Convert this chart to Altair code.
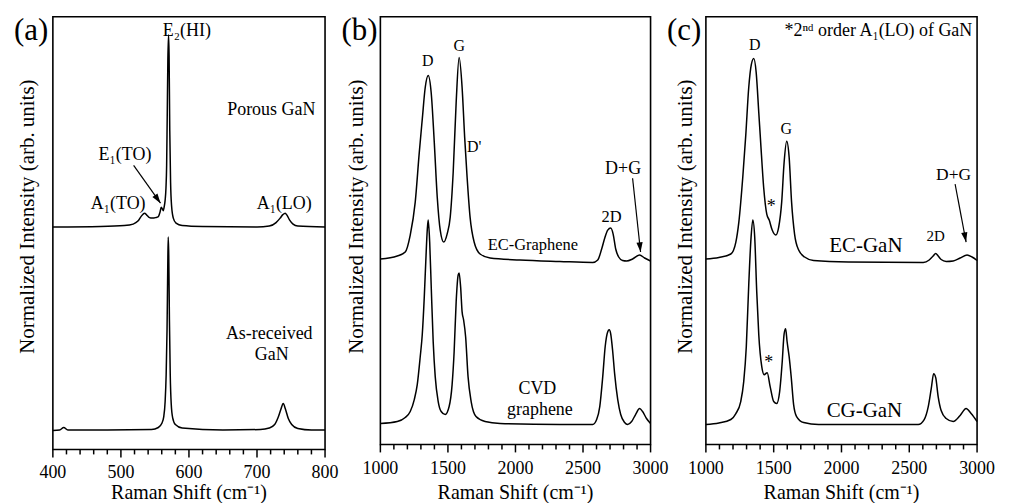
import altair as alt
import pandas as pd

FONT = "Liberation Serif"

# ---------------- panel (a): GaN ----------------
a_porous_x = [400, 470, 505, 518, 525, 530, 534.8, 538, 542, 546, 551, 555, 557.5, 559.3, 561, 562.3,
              563.5, 565, 566.2, 567.2, 568, 569, 570, 570.8, 571.8, 573, 574.5, 577, 581, 590, 620, 700,
              718, 728, 734, 738, 741.4, 744, 748, 753, 760, 800]
a_porous_y = [223, 223.5, 224.5, 226, 229, 234, 237, 235, 232.5, 232, 232.5, 233.5, 238, 243, 241, 239.5,
              243, 250, 262, 285, 330, 390, 416, 395, 320, 268, 244, 232, 227, 224.5, 223.5, 223,
              224, 227.5, 232, 235.5, 237, 235, 230, 226, 224, 223]
a_asrec_x = [400, 410, 416, 422, 480, 545, 555, 560, 563, 565, 566.5, 567.8, 568.8, 569.5, 570.3, 571.3,
             572.5, 574, 576, 580, 590, 650, 705, 718, 726, 731, 735, 738.5, 742, 746, 751, 760, 780, 800]
a_asrec_y = [19, 19.5, 22, 19.5, 19.5, 20, 22, 26, 33, 48, 75, 120, 180, 213, 195, 130,
             75, 45, 32, 25, 21.5, 19.5, 20, 21.5, 25, 32, 40, 46, 40, 31, 25, 21, 19.5, 19.5]
a_ann_x = [597, 721, 506, 496, 740, 718, 721.6]
a_ann_y = [415, 335, 290, 241, 241, 111, 90]
a_ann_t = ["E₂(HI)", "Porous GaN", "E₁(TO)", "A₁(TO)", "A₁(LO)", "As-received", "GaN"]
a_ann_s = [18, 18, 18, 18, 18, 18, 18]
a_arrow = [518.7, 285, 558.2, 247]
a_major = [400, 500, 600, 700, 800]
a_minor = list(range(400, 801, 20))

# ---------------- panel (b): graphene ----------------
b_ec_x = [1000, 1125, 1184, 1221, 1258, 1288, 1310, 1332, 1354, 1376, 1399, 1421, 1443, 1469, 1494, 1517,
          1539, 1561, 1583, 1605, 1624, 1642, 1664, 1694, 1738, 1812, 2033, 2328, 2572, 2609, 2638, 2661,
          2683, 2705, 2723, 2742, 2764, 2793, 2823, 2867, 2919, 2956, 3000]
b_ec_y = [186, 189, 193, 210, 243, 293, 326, 358, 370, 353, 303, 248, 215, 203, 211, 228,
          273, 343, 388, 358, 308, 268, 228, 203, 191, 187, 185, 183.5, 182.5, 185, 196, 207,
          215, 217, 211, 196, 188, 184.5, 184, 186, 190, 187, 184]
b_cvd_x = [1000, 1125, 1184, 1221, 1251, 1273, 1295, 1310, 1325, 1336, 1347, 1354, 1365, 1376, 1391, 1406,
           1428, 1450, 1480, 1509, 1531, 1546, 1561, 1576, 1583, 1594, 1605, 1616, 1631, 1649, 1672, 1708,
           1775, 1886, 2328, 2572, 2601, 2624, 2646, 2664, 2683, 2694, 2705, 2720, 2734, 2757, 2779, 2808,
           2830, 2860, 2889, 2919, 2941, 2970, 3000]
b_cvd_y = [21, 23, 27, 33, 45, 60, 88, 110, 148, 183, 215, 225, 203, 160, 103, 68,
           43, 33, 30, 38, 60, 93, 143, 170, 172, 158, 133, 125, 108, 68, 43, 28,
           23, 21, 20, 20, 25, 38, 68, 98, 113, 115, 111, 93, 71, 45, 30, 22,
           20, 23, 30, 36, 33, 26, 21]
b_ann_x = [1350.6, 1583, 1694, 2129, 2712, 2797, 2162, 2181]
b_ann_y = [380, 395, 293, 195, 223, 271, 51, 30]
b_ann_t = ["D", "G", "D'", "EC-Graphene", "2D", "D+G", "CVD", "graphene"]
b_ann_s = [16, 16, 16, 16.5, 16.5, 18, 18, 18]
b_arrow = [2867, 267, 2926, 193]
bc_major = [1000, 1500, 2000, 2500, 3000]
bc_minor = list(range(1000, 3001, 100))

# ---------------- panel (c): graphene on GaN ----------------
c_ec_x = [1000, 1096, 1184, 1221, 1243, 1272, 1294, 1316, 1335, 1353, 1371, 1390, 1404, 1426, 1449, 1467,
          1489, 1515, 1537, 1559, 1577, 1596, 1614, 1632, 1654, 1684, 1728, 1794, 2051, 2603, 2647, 2676,
          2695, 2713, 2735, 2772, 2824, 2875, 2926, 2963, 3000]
c_ec_y = [186, 187.5, 191, 203, 223, 268, 310, 358, 381, 387, 373, 333, 303, 258, 231, 225,
          215, 210, 218, 243, 283, 304, 288, 243, 211, 195, 188, 184.5, 183, 182.5, 185, 189,
          191.5, 189, 185.5, 183.5, 184, 187, 190, 188, 184.5]
c_cg_x = [1000, 1096, 1184, 1221, 1257, 1279, 1298, 1316, 1331, 1346, 1360, 1375, 1390, 1412, 1430, 1452,
          1474, 1500, 1522, 1544, 1563, 1577, 1588, 1599, 1614, 1629, 1647, 1669, 1721, 1831, 2566, 2610,
          2640, 2662, 2680, 2695, 2713, 2735, 2772, 2824, 2875, 2919, 2956, 3000]
c_cg_y = [20, 21.5, 25, 31, 43, 63, 98, 160, 203, 225, 208, 153, 110, 78, 70, 72,
          58, 43, 41, 53, 83, 111, 116, 103, 88, 68, 40, 28, 22, 20, 20, 25,
          38, 56, 71, 67, 48, 34, 26, 23, 29, 36, 31, 23]
c_ann_x = [2272, 1360, 1592, 2180, 2695, 2827, 2169, 1482, 1463]
c_ann_y = [410, 396, 311, 193, 204, 265, 28, 233, 77]
c_ann_t = ["*2ⁿᵈ order A₁(LO) of GaN", "D", "G", "EC-GaN", "2D", "D+G", "CG-GaN", "*", "*"]
c_ann_s = [18, 16, 16, 21, 15, 17.5, 21, 18, 18]
c_arrow = [2838, 261, 2919, 203]

Y_TITLE = "Normalized Intensity (arb. units)"
X_TITLE = "Raman Shift (cm⁻¹)"
HEAD = "M0,0L-0.32,-1L0.32,-1Z"
MAJOR_LEN = 8   # tick lengths, in the panels' y units (1 unit = 1 px)
MINOR_LEN = 5


def panel(curves, xdom, ydom, majors, minors, ann, arrow, head_angle, letter,
          title_x, xtitle_off, label_off, width, height):
    xs = alt.Scale(domain=xdom, nice=False, zero=False)
    ys = alt.Scale(domain=ydom, nice=False, zero=False)
    df = pd.concat([pd.DataFrame({"x": cx, "y": cy, "s": name}) for name, (cx, cy) in curves.items()])

    def X(field):
        return alt.X(field, scale=xs, axis=None)

    def Y(field):
        return alt.Y(field, scale=ys, axis=None)

    lines = alt.Chart(df).mark_line(color="black", strokeWidth=1.5, interpolate="monotone").encode(
        x=X("x:Q"), y=Y("y:Q"), detail="s:N",
    )
    # bottom axis ticks hanging below the frame, placed through both scales
    tick_df = pd.DataFrame({"x": minors, "y0": [0] * len(minors),
                            "y1": [-(MAJOR_LEN if v in majors else MINOR_LEN) for v in minors]})
    ticks = alt.Chart(tick_df).mark_rule(color="black", strokeWidth=1.5, clip=False).encode(
        x=X("x:Q"), y=Y("y0:Q"), y2="y1:Q")
    tick_lbl = alt.Chart(pd.DataFrame({"x": majors, "t": [str(v) for v in majors]})).mark_text(
        font=FONT, fontSize=18, color="black", align="center", baseline="alphabetic").encode(
        x=X("x:Q"), y=alt.value(height + label_off), text="t:N")
    xtitle = alt.Chart(pd.DataFrame({"t": [X_TITLE]})).mark_text(
        font=FONT, fontSize=20, color="black", align="center", baseline="alphabetic").encode(
        x=alt.value(width / 2), y=alt.value(height + xtitle_off), text="t:N")
    ann_df = pd.DataFrame({"x": ann[0], "y": ann[1], "t": ann[2], "fs": ann[3]})
    text = alt.Chart(ann_df).mark_text(font=FONT, color="black", align="center",
                                       baseline="alphabetic").encode(
        x=X("x:Q"), y=Y("y:Q"), text="t:N", size=alt.Size("fs:Q", scale=None),
    )
    ar_df = pd.DataFrame({"x": [arrow[0]], "y": [arrow[1]], "x2": [arrow[2]], "y2": [arrow[3]]})
    ar = alt.Chart(ar_df).mark_rule(color="black", strokeWidth=1.2).encode(
        x=X("x:Q"), y=Y("y:Q"), x2="x2:Q", y2="y2:Q",
    )
    head = alt.Chart(ar_df).mark_point(shape=HEAD, filled=True, color="black", opacity=1,
                                       size=380, angle=head_angle).encode(
        x=X("x2:Q"), y=Y("y2:Q"),
    )
    let = alt.Chart(pd.DataFrame({"t": [letter]})).mark_text(
        font=FONT, fontSize=31, color="black", align="left", baseline="alphabetic").encode(
        x=alt.value(-39), y=alt.value(23), text="t:N")
    ytitle = alt.Chart(pd.DataFrame({"t": [Y_TITLE]})).mark_text(
        font=FONT, fontSize=21, color="black", align="center", baseline="alphabetic", angle=270).encode(
        x=alt.value(title_x), y=alt.value(200.5), text="t:N")
    return alt.layer(lines, tick_lbl, xtitle, text, ar, head, let, ytitle, ticks).properties(
        width=width, height=height)


pa = panel({"Porous GaN": (a_porous_x, a_porous_y), "As-received GaN": (a_asrec_x, a_asrec_y)},
           [400, 800], [0, 434], a_major, a_minor,
           (a_ann_x, a_ann_y, a_ann_t, a_ann_s), a_arrow, 325, "(a)", -19, 50, 28.7, 273, 434)
pb = panel({"EC-Graphene": (b_ec_x, b_ec_y), "CVD graphene": (b_cvd_x, b_cvd_y)},
           [1000, 3000], [0, 429], bc_major, bc_minor,
           (b_ann_x, b_ann_y, b_ann_t, b_ann_s), b_arrow, 354, "(b)", -17, 55, 30, 271, 429)
pc = panel({"EC-GaN": (c_ec_x, c_ec_y), "CG-GaN": (c_cg_x, c_cg_y)},
           [1000, 3000], [0, 429], bc_major, bc_minor,
           (c_ann_x, c_ann_y, c_ann_t, c_ann_s), c_arrow, 349, "(c)", -14, 55, 30, 272, 429)

chart = alt.hconcat(pa, pb, pc, spacing=55.5, bounds="flush").configure_view(
    stroke="black", strokeWidth=1.6
).properties(padding={"left": 5, "top": 5, "right": 5, "bottom": 4})

chart.save("out.html", embed_options={"renderer": "svg", "actions": False})
